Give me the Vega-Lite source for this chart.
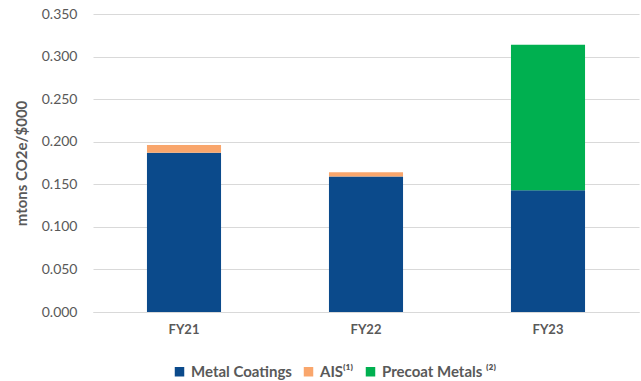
{
  "$schema": "https://vega.github.io/schema/vega-lite/v6.json",
  "width": 546,
  "height": 298,
  "autosize": {"type": "none"},
  "padding": {"left": 93, "top": 14, "right": 2, "bottom": 69},
  "background": "white",
  "config": {
    "view": {"stroke": null},
    "font": "Lato",
    "axis": {"labelColor": "#595959", "titleColor": "#595959"},
    "legend": {"labelColor": "#595959"}
  },
  "data": {
    "values": [
      {"year": "FY21", "segment": "Metal Coatings", "rank": 1, "value": 0.187},
      {"year": "FY21", "segment": "AIS", "rank": 2, "value": 0.009},
      {"year": "FY22", "segment": "Metal Coatings", "rank": 1, "value": 0.159},
      {"year": "FY22", "segment": "AIS", "rank": 2, "value": 0.005},
      {"year": "FY23", "segment": "Metal Coatings", "rank": 1, "value": 0.143},
      {"year": "FY23", "segment": "Precoat Metals", "rank": 3, "value": 0.171}
    ]
  },
  "mark": {"type": "bar"},
  "encoding": {
    "x": {
      "field": "year",
      "type": "nominal",
      "scale": {"paddingInner": 0.593, "paddingOuter": 0.2965},
      "axis": {
        "title": null,
        "labelAngle": 0,
        "labelFontSize": 13,
        "labelFontWeight": "bold",
        "labelPadding": 11,
        "ticks": false,
        "domainColor": "#d9d9d9",
        "domainWidth": 1
      }
    },
    "y": {
      "field": "value",
      "type": "quantitative",
      "stack": "zero",
      "scale": {"domain": [0, 0.35], "nice": false},
      "axis": {
        "title": "mtons CO2e/$000",
        "titleFontSize": 15,
        "titleFontWeight": "bold",
        "titlePadding": 12,
        "values": [0, 0.05, 0.1, 0.15, 0.2, 0.25, 0.3, 0.35],
        "format": ".3f",
        "labelFontSize": 14,
        "labelPadding": 16,
        "ticks": false,
        "domain": false,
        "gridColor": "#d9d9d9",
        "gridWidth": 1
      }
    },
    "color": {
      "field": "segment",
      "type": "nominal",
      "scale": {
        "domain": ["Metal Coatings", "AIS", "Precoat Metals"],
        "range": ["#0b4a8b", "#f9a66c", "#00b050"]
      },
      "legend": {
        "title": null,
        "orient": "none",
        "legendX": 79,
        "legendY": 350,
        "direction": "horizontal",
        "symbolType": "square",
        "symbolSize": 90,
        "symbolStrokeWidth": 0,
        "symbolOpacity": 1,
        "labelFontSize": 15,
        "labelFontWeight": "bold",
        "labelOffset": 4,
        "columnPadding": 9,
        "labelExpr": "datum.label == 'AIS' ? 'AIS⁽¹⁾' : datum.label == 'Precoat Metals' ? 'Precoat Metals ⁽²⁾' : datum.label"
      }
    },
    "order": {"field": "rank", "type": "quantitative"}
  }
}
